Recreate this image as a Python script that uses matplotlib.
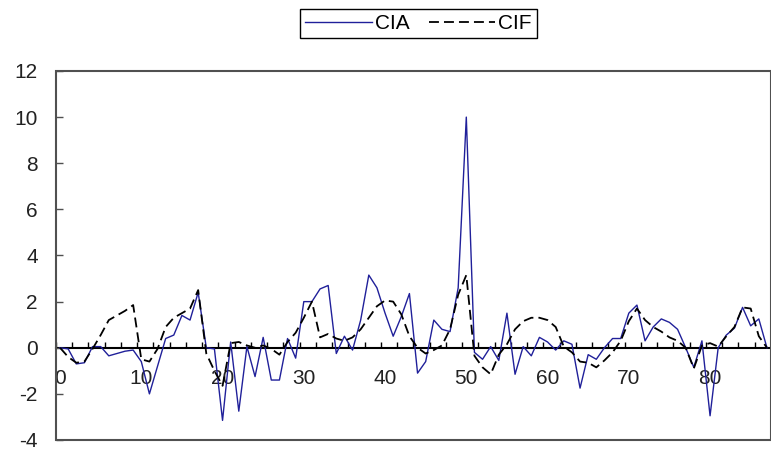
import numpy as np
import matplotlib
matplotlib.use('Agg')
import matplotlib.pyplot as plt
from matplotlib.patches import Rectangle

plt.rcParams['font.family'] = ['Liberation Sans', 'DejaVu Sans']

# series values (x = 0..87)
cia = [0.0, -0.05, -0.7, -0.65, 0.05, 0.05, -0.35, -0.25, -0.15, -0.1,
       -0.6, -2.0, -0.8, 0.4, 0.55, 1.4, 1.2, 2.4, 0.0, -0.05,
       -3.15, 0.25, -2.75, 0.05, -1.25, 0.45, -1.4, -1.4, 0.4, -0.45,
       2.0, 2.0, 2.55, 2.7, -0.25, 0.5, -0.1, 1.2, 3.15, 2.6,
       1.5, 0.5, 1.35, 2.35, -1.1, -0.6, 1.2, 0.8, 0.7, 2.6,
       10.0, -0.2, -0.5, 0.05, -0.55, 1.5, -1.15, 0.05, -0.35, 0.45,
       0.25, -0.1, 0.3, 0.15, -1.75, -0.3, -0.5, 0.0, 0.4, 0.4,
       1.5, 1.85, 0.3, 0.9, 1.25, 1.1, 0.8, 0.0, -0.85, 0.3,
       -2.95, 0.0, 0.55, 0.85, 1.75, 0.95, 1.25, 0.0]
cif = [0.0, -0.4, -0.65, -0.6, -0.05, 0.55, 1.2, 1.4, 1.6, 1.85,
       -0.5, -0.6, -0.05, 0.9, 1.3, 1.5, 1.7, 2.5, -0.25, -1.0,
       -1.65, 0.2, 0.25, 0.1, 0.0, 0.1, -0.05, -0.3, 0.25, 0.65,
       1.3, 2.0, 0.45, 0.6, 0.4, 0.3, 0.45, 0.8, 1.3, 1.8,
       2.05, 2.0, 1.45, 0.5, 0.0, -0.25, -0.1, 0.1, 0.8, 2.3,
       3.15, -0.35, -0.85, -1.15, -0.3, 0.15, 0.8, 1.15, 1.3, 1.3,
       1.2, 0.9, 0.05, -0.2, -0.6, -0.65, -0.85, -0.55, -0.2, 0.3,
       1.15, 1.7, 1.2, 0.9, 0.7, 0.45, 0.3, 0.0, -0.9, 0.1,
       0.2, 0.05, 0.5, 0.9, 1.75, 1.7, 0.5, 0.0]
x = np.arange(len(cia))
xlabels = [0, 10, 20, 30, 40, 50, 60, 70, 80]
yticks = [-4, -2, 0, 2, 4, 6, 8, 10, 12]

fig = plt.figure(figsize=(7.71, 4.53), dpi=100)
ax = fig.add_axes([0.0726, 0.0287, 0.9274, 0.8146])

ax.plot(x, cia, color='#20209a', lw=1.0, label='CIA')
ax.plot(x, cif, color='black', lw=1.3, dashes=(5.5, 2.8), label='CIF')

ax.set_xlim(-0.5, len(cia) - 0.5)
ax.set_ylim(-4, 12)

# frame of the plot area
for s in ['top', 'right', 'left']:
    ax.spines[s].set_visible(False)
ax.add_patch(Rectangle((0, 0), 1, 1, transform=ax.transAxes, fill=False,
                       edgecolor='#505050', lw=1.5, clip_on=False, zorder=5))

# x axis crossing at zero
ax.spines['bottom'].set_position(('data', 0))
ax.spines['bottom'].set_linewidth(1.5)
ax.spines['bottom'].set_zorder(1)
ax.set_xticks(np.arange(-0.5, len(cia), 2))
ax.set_xticklabels([])
ax.tick_params(axis='x', which='major', direction='in', length=4, width=1, color='black')
ax.set_xticks(xlabels, minor=True)
ax.set_xticklabels([str(v) for v in xlabels], minor=True)
ax.tick_params(axis='x', which='minor', length=0, pad=15, labelsize=15, labelcolor='#222222')

ax.set_yticks(yticks)
ax.set_yticklabels([str(v) for v in yticks])
ax.tick_params(axis='y', direction='in', length=5, width=1, pad=13, labelsize=15,
               labelcolor='#222222', color='#505050')

leg = ax.legend(loc='center', bbox_to_anchor=(0.543, 0.948), bbox_transform=fig.transFigure,
                ncol=2, fontsize=15, handlelength=3.2, handletextpad=0.15, columnspacing=0.9,
                borderpad=0.25, fancybox=False, framealpha=1, edgecolor='black')
leg.get_frame().set_linewidth(1.0)

fig.savefig('out.png', dpi=100)
